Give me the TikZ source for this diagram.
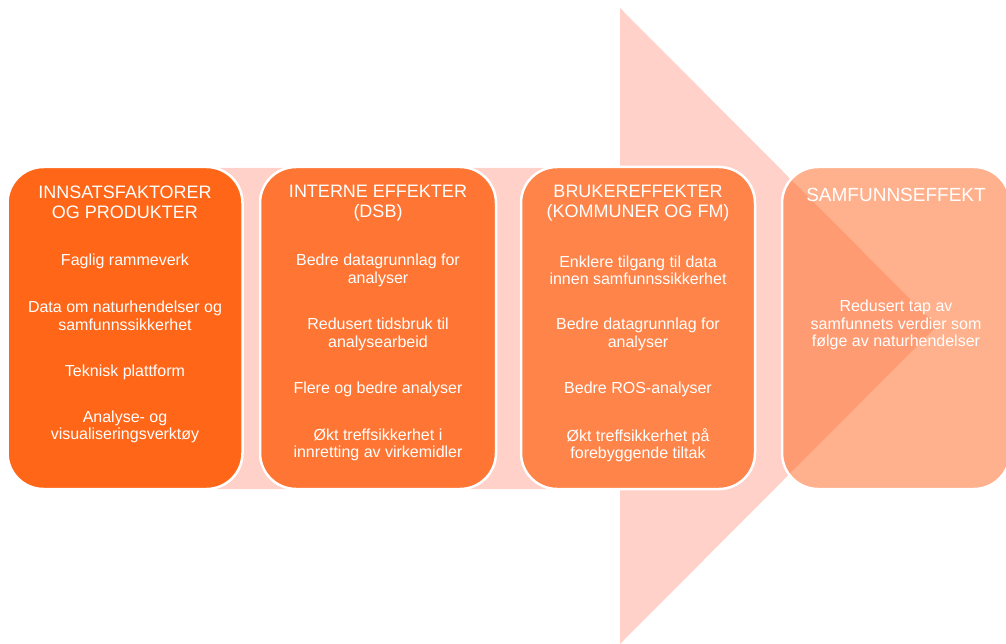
\documentclass[tikz,border=0pt]{standalone}
\usepackage{fontspec}
\setmainfont{Liberation Sans}
\definecolor{pinkc}{RGB}{255,209,200}
\definecolor{cA}{RGB}{255,102,24}
\definecolor{cB}{RGB}{255,118,52}
\definecolor{cC}{RGB}{255,132,74}
\definecolor{cD}{RGB}{255,112,45}
\begin{document}
\begin{tikzpicture}[x=1pt,y=-1pt,
  box/.style={draw=white,line width=2.5pt,rounded corners=36pt,minimum height=322pt,inner sep=0pt},
  ttl/.style={text=white,align=center,font=\fontsize{18}{20}\selectfont},
  itm/.style={text=white,align=center,font=\fontsize{16}{17.5}\selectfont}]
\useasboundingbox (0,0) rectangle (1006,644);
% background arrow
\fill[pinkc] (215,168) -- (620,168) -- (620,8) -- (937,326) -- (620,644) -- (620,489) -- (215,489) -- cycle;
% boxes
\node[box,fill=cA,minimum width=235pt] (b1) at (125,328) {};
\node[box,fill=cB,minimum width=236pt] (b2) at (378,328) {};
\node[box,fill=cC,minimum width=234pt] (b3) at (638,328) {};
\node[box,fill=cD,fill opacity=0.55,minimum width=228pt] (b4) at (896,328) {};
% box 1
\node[ttl] (t1) at (125,202) {INNSATSFAKTORER\\OG PRODUKTER};
\node[itm] (t1a) at (125,261) {Faglig rammeverk};
\node[itm] (t1b) at (125,316) {Data om naturhendelser og\\samfunnssikkerhet};
\node[itm] (t1c) at (125,372) {Teknisk plattform};
\node[itm] (t1d) at (125,427) {Analyse- og\\visualiseringsverktøy};
% box 2
\node[ttl] (t2) at (378,203) {INTERNE EFFEKTER\\(DSB)};
\node[itm] (t2a) at (378,270.5) {Bedre datagrunnlag for\\analyser};
\node[itm] (t2b) at (378,334.5) {Redusert tidsbruk til\\analysearbeid};
\node[itm] (t2c) at (378,389) {Flere og bedre analyser};
\node[itm] (t2d) at (378,445) {Økt treffsikkerhet i\\innretting av virkemidler};
% box 3
\node[ttl] (t3) at (638,203) {BRUKEREFFEKTER\\(KOMMUNER OG FM)};
\node[itm] (t3a) at (638,270.5) {Enklere tilgang til data\\innen samfunnssikkerhet};
\node[itm] (t3b) at (638,334.5) {Bedre datagrunnlag for\\analyser};
\node[itm] (t3c) at (638,389) {Bedre ROS-analyser};
\node[itm] (t3d) at (638,445) {Økt treffsikkerhet på\\forebyggende tiltak};
% box 4
\node[ttl,font=\fontsize{19}{21}\selectfont] (t4) at (896,195) {SAMFUNNSEFFEKT};
\node[itm] (t4a) at (896,325) {Redusert tap av\\samfunnets verdier som\\følge av naturhendelser};
\end{tikzpicture}
\end{document}
